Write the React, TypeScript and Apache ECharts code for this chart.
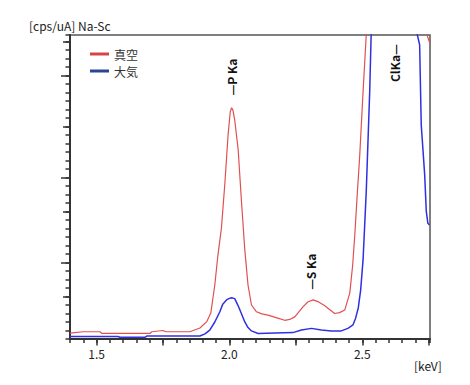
import React, { useEffect, useRef } from "react";
import * as echarts from "echarts";

// 真空 (vacuum) spectrum
const redX = [1.400,1.449,1.513,1.520,1.701,1.708,1.750,1.761,1.851,1.889,1.915,1.930,1.945,1.956,1.970,1.983,1.995,2.003,2.008,2.013,2.020,2.033,2.045,2.058,2.070,2.083,2.102,2.122,2.145,2.182,2.208,2.227,2.246,2.276,2.295,2.315,2.333,2.359,2.396,2.415,2.434,2.453,2.464,2.472,2.481,2.490,2.503,2.515,2.53,2.56,2.60,2.63,2.66,2.70,2.72,2.735,2.755];
const redY = [0.14,0.17,0.17,0.13,0.13,0.17,0.20,0.17,0.17,0.26,0.41,0.61,1.27,1.93,2.61,3.67,4.80,5.34,5.44,5.39,5.15,4.45,3.27,2.09,1.27,0.80,0.64,0.59,0.56,0.49,0.44,0.46,0.52,0.75,0.87,0.92,0.88,0.78,0.60,0.62,0.68,1.08,1.74,2.45,3.39,4.26,5.81,7.15,10,16,21,22,19,13,9.5,7.3,6.95];

// 大気 (air) spectrum
const blueX = [1.400,1.580,1.588,1.682,1.689,1.889,1.908,1.926,1.945,1.964,1.975,1.989,1.998,2.008,2.020,2.033,2.045,2.058,2.070,2.083,2.108,2.239,2.271,2.309,2.346,2.384,2.421,2.446,2.465,2.475,2.485,2.494,2.503,2.515,2.528,2.534,2.55,2.60,2.65,2.69,2.703,2.716,2.722,2.735,2.741,2.747,2.753];
const blueY = [0.06,0.06,0.04,0.04,0.07,0.07,0.12,0.21,0.40,0.64,0.82,0.92,0.95,0.97,0.95,0.78,0.60,0.40,0.27,0.19,0.13,0.15,0.21,0.25,0.21,0.19,0.19,0.25,0.33,0.49,0.73,1.15,1.86,3.46,5.81,7.27,10.5,13,12.5,9,7.27,6.92,5.04,3.86,3.00,2.72,2.68];

const seriesNames = ["真空", "大気"];

// peak annotations
const peakNames = ["—P Ka", "—S Ka", "ClKa—"];
const peakX = [2.008, 2.306, 2.622];
const peakY = [6.16, 1.58, 6.49];

// axis ticks / labels
const xLabelValues = [1.5, 2.0, 2.5];
const xMajorTicks = [1.5, 1.75, 2.0, 2.25, 2.5, 2.75];
const yMediumTicks = [1, 3, 5, 7];
const yLongTicks = [1.8, 3.8, 6.2];

const FONT = "'Noto Sans CJK JP', 'Noto Sans', sans-serif";

export default function App() {
  const ref = useRef<HTMLDivElement>(null);
  useEffect(() => {
    if (!ref.current) return;
    const chart = echarts.init(ref.current, null, { renderer: "svg" });
    const axisColor = "#333";
    const tickStyle = { color: axisColor, width: 1.5 };
    const xBase = { type: "value", min: 1.4, max: 2.755, position: "bottom", splitLine: { show: false } };
    const yBase = { type: "value", min: 0, max: 7.15, position: "left", splitLine: { show: false } };
    const option: any = {
      animation: false,
      textStyle: { fontFamily: FONT },
      title: {
        text: "[cps/uA] Na-Sc",
        left: 24,
        top: 14,
        textStyle: { fontSize: 12, fontWeight: "normal", color: "#222", fontFamily: FONT },
      },
      legend: {
        orient: "vertical",
        left: 85,
        top: 43,
        icon: "rect",
        itemWidth: 19,
        itemHeight: 3,
        itemGap: 5,
        textStyle: { fontSize: 12, color: "#333", fontFamily: FONT },
        data: [
          { name: seriesNames[0], itemStyle: { color: "#d64545" } },
          { name: seriesNames[1], itemStyle: { color: "#2b4596" } },
        ],
      },
      grid: {
        left: 70,
        right: 40,
        top: 35,
        bottom: 46,
        show: true,
        borderColor: "#555",
        borderWidth: 1.5,
      },
      xAxis: [
        {
          ...xBase,
          axisLine: { show: true, lineStyle: { color: axisColor, width: 2 } },
          axisTick: { show: true, length: 6.5, customValues: xMajorTicks, lineStyle: tickStyle },
          axisLabel: {
            show: true,
            customValues: xLabelValues,
            formatter: (v: number) => v.toFixed(1),
            margin: 8,
            fontSize: 12,
            color: "#222",
            fontFamily: FONT,
          },
        },
        {
          ...xBase,
          interval: 0.05,
          axisLine: { show: false },
          axisTick: { show: true, length: 4, lineStyle: tickStyle },
          axisLabel: { show: false },
        },
      ],
      yAxis: [
        {
          ...yBase,
          interval: 0.2,
          axisLine: { show: true, lineStyle: { color: axisColor, width: 2 } },
          axisTick: { show: true, length: 4.5, lineStyle: tickStyle },
          axisLabel: { show: false },
        },
        {
          ...yBase,
          axisLine: { show: false },
          axisTick: { show: true, length: 7, customValues: yMediumTicks, lineStyle: tickStyle },
          axisLabel: { show: false },
        },
        {
          ...yBase,
          axisLine: { show: false },
          axisTick: { show: true, length: 9, customValues: yLongTicks, lineStyle: tickStyle },
          axisLabel: { show: false },
        },
      ],
      graphic: [
        {
          type: "text",
          x: 414,
          y: 365,
          style: { text: "[keV]", fill: "#222", font: `12px ${FONT}`, verticalAlign: "middle" },
        },
      ],
      series: [
        {
          name: seriesNames[0],
          type: "line",
          xAxisIndex: 0,
          yAxisIndex: 0,
          symbol: "none",
          data: redX.map((x, i) => [x, redY[i]]),
          lineStyle: { color: "#e05050", width: 1.2 },
          itemStyle: { color: "#e05050" },
          markPoint: {
            symbol: "circle",
            symbolSize: 1,
            itemStyle: { color: "rgba(0,0,0,0)" },
            label: {
              show: true,
              position: "inside",
              rotate: 90,
              fontSize: 12,
              fontWeight: "bold",
              color: "#111",
              fontFamily: FONT,
            },
            data: peakNames.map((n, i) => ({
              name: n,
              coord: [peakX[i], peakY[i]],
              label: { formatter: n },
            })),
          },
        },
        {
          name: seriesNames[1],
          type: "line",
          xAxisIndex: 0,
          yAxisIndex: 0,
          symbol: "none",
          data: blueX.map((x, i) => [x, blueY[i]]),
          lineStyle: { color: "#3030e0", width: 1.5 },
          itemStyle: { color: "#3030e0" },
        },
      ],
    };
    chart.setOption(option);
    return () => chart.dispose();
  }, []);
  return (
    <div
      ref={ref}
      style={{ position: "fixed", left: 0, top: 0, width: 470, height: 385, background: "#fff" }}
    />
  );
}
